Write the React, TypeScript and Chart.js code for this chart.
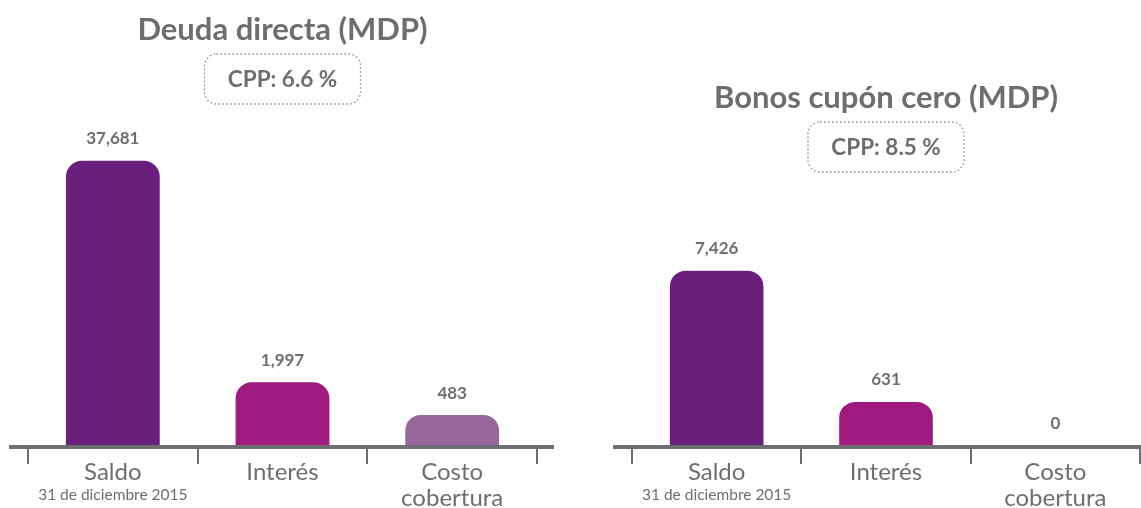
import React, { useEffect, useRef } from 'react';
import { Chart, registerables, LinearScale } from 'chart.js';

// ---------- data ----------
const categoryLines: string[][] = [['Saldo'], ['Interés'], ['Costo', 'cobertura']];
const categorySubLines: string[] = ['31 de diciembre 2015', '', ''];

const deudaTitle = 'Deuda directa (MDP)';
const deudaCpp = 'CPP: 6.6 %';
const deudaValues = [37681, 1997, 483];

const bonosTitle = 'Bonos cupón cero (MDP)';
const bonosCpp = 'CPP: 8.5 %';
const bonosValues = [7426, 631, 0];

const barColors = ['#6b1f7c', '#a0197e', '#98689c'];

// ---------- custom power scale (bars in the source are not linear) ----------
class PowerScale extends LinearScale {
  static id = 'power';
  static defaults = { ticks: { callback: (v: number) => String(v) } };
  _exp(): number {
    const e = (this.options as any).exponent;
    return typeof e === 'number' ? e : 0.5;
  }
  getPixelForValue(value: number) {
    if (value === null || value === undefined || isNaN(value as any)) return NaN;
    const e = this._exp();
    const lo = Math.pow(Math.max(this.min, 0), e);
    const hi = Math.pow(this.max, e);
    const t = (Math.pow(Math.max(value, 0), e) - lo) / (hi - lo);
    return this.getPixelForDecimal(t);
  }
  getValueForPixel(pixel: number) {
    const e = this._exp();
    const lo = Math.pow(Math.max(this.min, 0), e);
    const hi = Math.pow(this.max, e);
    const d = this.getDecimalForPixel(pixel);
    return Math.pow(lo + d * (hi - lo), 1 / e);
  }
}

Chart.register(...registerables, PowerScale as any);

const GREY = '#6d6e71';
const FONT = 'Lato, "Open Sans", sans-serif';

function makeDecorPlugin(title: string, cpp: string, titleY: number) {
  return {
    id: 'decor',
    afterDraw(chart: any) {
      const ctx = chart.ctx as CanvasRenderingContext2D;
      const area = chart.chartArea;
      const x = chart.scales.x;
      const y = chart.scales.y;
      const n = chart.data.labels.length;
      const cx = (area.left + area.right) / 2;
      ctx.save();

      // title
      ctx.fillStyle = GREY;
      ctx.textAlign = 'center';
      ctx.textBaseline = 'middle';
      ctx.font = `bold 31px ${FONT}`;
      ctx.fillText(title, cx, titleY);

      // CPP box
      const boxW = 156;
      const boxH = 50;
      const boxTop = titleY + 24;
      ctx.strokeStyle = '#8e8e91';
      ctx.lineWidth = 1.3;
      ctx.setLineDash([1.6, 2.4]);
      ctx.beginPath();
      (ctx as any).roundRect(cx - boxW / 2, boxTop, boxW, boxH, 12);
      ctx.stroke();
      ctx.setLineDash([]);
      ctx.font = `bold 22.5px ${FONT}`;
      ctx.fillText(cpp, cx, boxTop + boxH / 2 + 1);

      // baseline
      const base = y.getPixelForValue(0);
      ctx.fillStyle = GREY;
      ctx.fillRect(area.left - 19, base - 1, area.right - area.left + 36, 4);

      // tick marks at category boundaries
      const step = (x.right - x.left) / n;
      for (let i = 0; i <= n; i++) {
        const tx = Math.round(x.left + i * step);
        ctx.fillRect(tx - 1, base + 3, 2, 15);
      }

      // category labels
      chart.data.labels.forEach((_: any, i: number) => {
        const px = x.getPixelForValue(i);
        const lines = categoryLines[i];
        ctx.fillStyle = GREY;
        ctx.font = `24px ${FONT}`;
        lines.forEach((ln, k) => ctx.fillText(ln, px, base + 26 + k * 26));
        if (categorySubLines[i]) {
          ctx.font = `15.5px ${FONT}`;
          ctx.fillText(categorySubLines[i], px, base + 49);
        }
      });

      // value labels
      const ds = chart.data.datasets[0];
      ctx.font = `bold 17px ${FONT}`;
      ds.data.forEach((v: number, i: number) => {
        const px = x.getPixelForValue(i);
        const py = y.getPixelForValue(v);
        ctx.fillText(v.toLocaleString('en-US'), px, py - 22);
      });

      ctx.restore();
    },
  };
}

function Panel(props: {
  width: number;
  left: number;
  values: number[];
  title: string;
  cpp: string;
  titleY: number;
  padLeft: number;
  padRight: number;
  max: number;
  exponent: number;
}) {
  const ref = useRef<HTMLCanvasElement>(null);
  useEffect(() => {
    if (!ref.current) return;
    const chart = new Chart(ref.current, {
      type: 'bar',
      data: {
        labels: categoryLines.map((l) => l.join(' ')),
        datasets: [
          {
            data: props.values,
            backgroundColor: barColors,
            borderWidth: 0,
            borderRadius: { topLeft: 16, topRight: 16, bottomLeft: 0, bottomRight: 0 },
            borderSkipped: false,
            categoryPercentage: 1,
            barPercentage: 0.553,
          },
        ],
      },
      options: {
        animation: false,
        responsive: false,
        devicePixelRatio: 1,
        layout: { padding: { top: 100, bottom: 62, left: props.padLeft, right: props.padRight } },
        plugins: { legend: { display: false }, tooltip: { enabled: false }, title: { display: false } },
        scales: {
          x: { type: 'category', display: false, offset: true },
          y: {
            type: 'power' as any,
            display: false,
            min: 0,
            max: props.max,
            exponent: props.exponent,
          } as any,
        },
      } as any,
      plugins: [makeDecorPlugin(props.title, props.cpp, props.titleY)],
    });
    return () => chart.destroy();
  }, []);
  return (
    <canvas
      ref={ref}
      width={props.width}
      height={508}
      style={{ position: 'absolute', left: props.left, top: 0, width: props.width, height: 508 }}
    />
  );
}

export default function App() {
  return (
    <div style={{ position: 'fixed', left: 0, top: 0, width: 1141, height: 508, background: '#fff', overflow: 'hidden' }}>
      <Panel
        width={570}
        left={0}
        values={deudaValues}
        title={deudaTitle}
        cpp={deudaCpp}
        titleY={30}
        padLeft={28}
        padRight={33}
        max={55000}
        exponent={0.51}
      />
      <Panel
        width={571}
        left={570}
        values={bonosValues}
        title={bonosTitle}
        cpp={bonosCpp}
        titleY={98}
        padLeft={62}
        padRight={1}
        max={25000}
        exponent={0.56}
      />
    </div>
  );
}
